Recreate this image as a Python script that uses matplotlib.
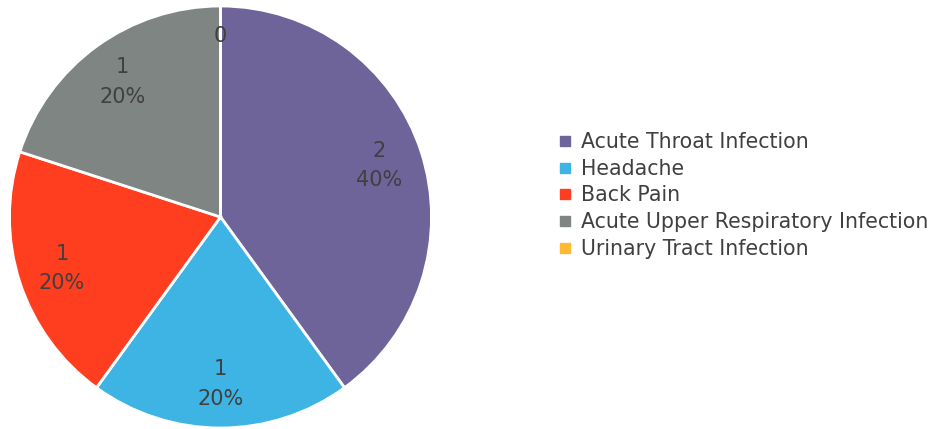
import math
import matplotlib
matplotlib.use("Agg")
from matplotlib import pyplot as plt
from matplotlib.lines import Line2D

categories = ["Acute Throat Infection", "Headache", "Back Pain",
              "Acute Upper Respiratory Infection", "Urinary Tract Infection"]
counts = [2, 1, 1, 1, 0]
colors = ["#6e6499", "#3eb4e5", "#ff3d1f", "#7e8583", "#ffba33"]

total = sum(counts)


def label_fmt(pct):
    value = int(round(pct * total / 100.0))
    if value == 0:
        return "0"
    return "{}\n{:.0f}%".format(value, pct)


fig = plt.figure(figsize=(9.33, 4.29), dpi=100)
ax = fig.add_axes([9.5 / 933, 1 / 429, 422 / 933, 422 / 429])
wedges, texts, autotexts = ax.pie(counts, colors=colors, startangle=90, counterclock=False,
                                  autopct=label_fmt, pctdistance=0.79, radius=1,
                                  wedgeprops={"edgecolor": "white", "linewidth": 2},
                                  textprops={"fontsize": 15, "color": "#404040",
                                             "linespacing": 1.62})

# empty slices get their label a little further out, as in the original
for w, t, c in zip(wedges, autotexts, counts):
    if c == 0:
        ang = math.radians((w.theta1 + w.theta2) / 2)
        t.set_position((0.86 * math.cos(ang), 0.86 * math.sin(ang)))

ax.set_xlim(-1, 1)
ax.set_ylim(-1, 1)
ax.set_aspect("equal")
ax.axis("off")

handles = [Line2D([0], [0], marker="s", linestyle="none", markersize=7,
                  markerfacecolor=c, markeredgecolor=c) for c in colors]
fig.legend(handles, categories, loc="center left", bbox_to_anchor=(551 / 933, 233.5 / 429),
           frameon=False, fontsize=14.8, handlelength=0.6, handletextpad=0.45,
           labelspacing=0.33, labelcolor="#404040", borderaxespad=0)

fig.savefig("out.png", dpi=100)
